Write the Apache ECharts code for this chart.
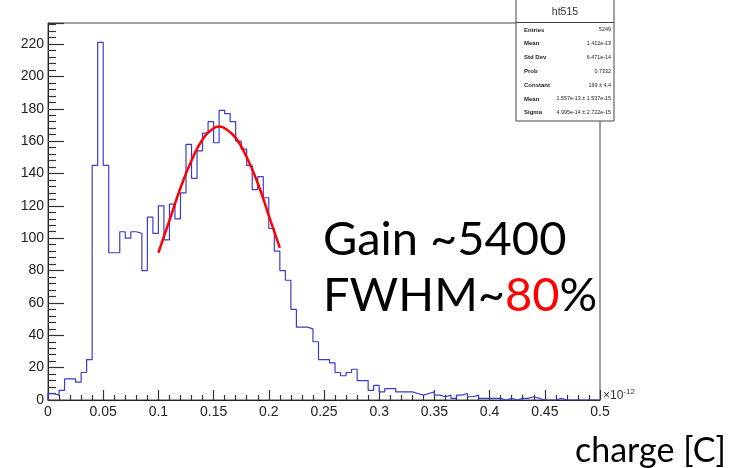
<!DOCTYPE html>
<html>
<head>
<meta charset="utf-8">
<script src="https://cdn.jsdelivr.net/npm/echarts@6/dist/echarts.min.js"></script>
<style>
html, body { margin: 0; padding: 0; background: #fff; }
#chart { width: 734px; height: 468px; }
</style>
</head>
<body>
<div id="chart"></div>
<script>
// histogram ht515: 100 bins from 0 to 0.5 (x1e-12 C)
const binWidth = 0.005;
const counts = [
    4, 3, 6, 13, 13, 11, 17, 25, 145, 221,
    145, 91, 91, 104, 100, 104, 103, 80, 113, 103,
    120, 99, 121, 112, 128, 158, 137, 154, 165, 172,
    159, 179, 177, 172, 160, 155, 145, 130, 138, 125,
    106, 92, 80, 74, 56, 45, 45, 44, 36, 25,
    25, 23, 17, 15, 17, 19, 12, 12, 6, 9,
    5, 7, 7, 5, 5, 5, 4, 3, 4, 5,
    3, 2, 3, 1, 3, 4, 2, 3, 1, 1,
    1, 1, 0, 1, 0, 1, 1, 2, 1, 0,
    0, 0, 1, 0, 0, 0, 0, 0, 0, 0
];

// red gaussian fit
const fitX = [0.10, 0.11, 0.12, 0.13, 0.14, 0.15, 0.155, 0.16, 0.17, 0.18, 0.19, 0.20, 0.21];
const fitY = [91, 111, 131, 148, 161, 168, 169, 168, 162, 150, 134, 114, 94];

const yTicks = [0, 20, 40, 60, 80, 100, 120, 140, 160, 180, 200, 220];
const xTickLabels = ['0', '0.05', '0.1', '0.15', '0.2', '0.25', '0.3', '0.35', '0.4', '0.45', '0.5'];

const statsTitle = 'ht515';
const statsNames = ['Entries', 'Mean', 'Std Dev', 'Prob', 'Constant', 'Mean', 'Sigma'];
const statsValues = ['5249', '1.412e-13', '6.471e-14', '0.7332', '169 \u00b1 4.4',
    '1.557e-13 \u00b1 1.537e-15', '4.995e-14 \u00b1 2.722e-15'];

const histData = [[0, 0]].concat(counts.map((c, i) => [i * binWidth, c]));
histData.push([counts.length * binWidth, counts[counts.length - 1]]);

const fitData = fitX.map((x, i) => [x, fitY[i]]);

const chart = echarts.init(document.getElementById('chart'));

// stats box
const boxL = 516, boxR = 614, boxT = -1, boxB = 121;
const statsGraphics = [
    { type: 'rect', shape: { x: boxL, y: boxT, width: boxR - boxL, height: boxB - boxT },
      style: { fill: '#fff', stroke: '#444', lineWidth: 1 }, z: 50 },
    { type: 'line', shape: { x1: boxL, y1: 22.5, x2: boxR, y2: 22.5 },
      style: { stroke: '#444', lineWidth: 1 }, z: 51 },
    { type: 'text', x: 565, y: 12, z: 52,
      style: { text: statsTitle, font: '10.5px "Liberation Sans", Arial, sans-serif', fill: '#333',
               align: 'center', verticalAlign: 'middle' } }
];
statsNames.forEach((name, i) => {
    const y = 30 + i * 13.8;
    statsGraphics.push({ type: 'text', x: 524, y: y, z: 52,
        style: { text: name, font: 'bold 6px "Liberation Sans", Arial, sans-serif', fill: '#222',
                 align: 'left', verticalAlign: 'middle' } });
    statsGraphics.push({ type: 'text', x: 611, y: y, z: 52,
        style: { text: statsValues[i], font: '5.4px "Liberation Sans", Arial, sans-serif', fill: '#222',
                 align: 'right', verticalAlign: 'middle' } });
});

const option = {
    animation: false,
    backgroundColor: '#fff',
    grid: {
        left: 48, right: 134, top: 23, bottom: 68,
        show: true, borderColor: '#444', borderWidth: 1, backgroundColor: 'transparent'
    },
    xAxis: {
        type: 'value',
        min: 0, max: 0.5, interval: 0.05,
        axisLine: { show: true, onZero: false, lineStyle: { color: '#222', width: 1 } },
        axisTick: { show: true, inside: true, length: 10, lineStyle: { color: '#333', width: 1.2 } },
        minorTick: { show: true, splitNumber: 5, length: 5, lineStyle: { color: '#333', width: 1.2 } },
        splitLine: { show: false },
        axisLabel: {
            margin: 5, color: '#222', fontSize: 14, fontFamily: '"Liberation Sans", Arial, sans-serif',
            formatter: (v) => xTickLabels[Math.round(v / 0.05)] || ''
        }
    },
    yAxis: {
        type: 'value',
        min: 0, max: 233, interval: 20,
        axisLine: { show: true, onZero: false, lineStyle: { color: '#222', width: 1 } },
        axisTick: { show: true, inside: true, length: 16, lineStyle: { color: '#333', width: 1.2 } },
        minorTick: { show: true, splitNumber: 5, length: 8, lineStyle: { color: '#333', width: 1.2 } },
        splitLine: { show: false },
        axisLabel: {
            margin: 4, color: '#222', fontSize: 14, fontFamily: '"Liberation Sans", Arial, sans-serif',
            formatter: (v) => yTicks.indexOf(v) >= 0 ? String(v) : ''
        }
    },
    series: [
        {
            name: 'ht515',
            type: 'line',
            step: 'end',
            data: histData,
            symbol: 'none',
            lineStyle: { color: '#3c3ccc', width: 1.2 },
            z: 2
        },
        {
            name: 'fit',
            type: 'line',
            smooth: true,
            data: fitData,
            symbol: 'none',
            lineStyle: { color: '#ff0000', width: 2.5 },
            z: 3
        }
    ],
    graphic: statsGraphics.concat([
        { type: 'text', x: 603, y: 396,
          style: { text: '\u00d710{s|-12}', font: '12px "Liberation Sans", Arial, sans-serif', fill: '#333',
                   verticalAlign: 'middle',
                   rich: { s: { fontSize: 8, verticalAlign: 'top', padding: [0, 0, 8, 0], fill: '#333' } } } },
        { type: 'text', x: 323, y: 240,
          style: { text: 'Gain ~5400', font: '47px Lato, "Open Sans", sans-serif', fill: '#000',
                   verticalAlign: 'middle' } },
        { type: 'text', x: 323, y: 296,
          style: { text: 'FWHM~{r|80}%', font: '47px Lato, "Open Sans", sans-serif', fill: '#000',
                   verticalAlign: 'middle',
                   rich: { r: { fill: '#ff0000', font: '47px Lato, "Open Sans", sans-serif' } } } },
        { type: 'text', x: 575, y: 451,
          style: { text: 'charge [C]', font: '34px Lato, "Open Sans", sans-serif', fill: '#000',
                   verticalAlign: 'middle' } }
    ])
};

chart.setOption(option);
</script>
</body>
</html>
